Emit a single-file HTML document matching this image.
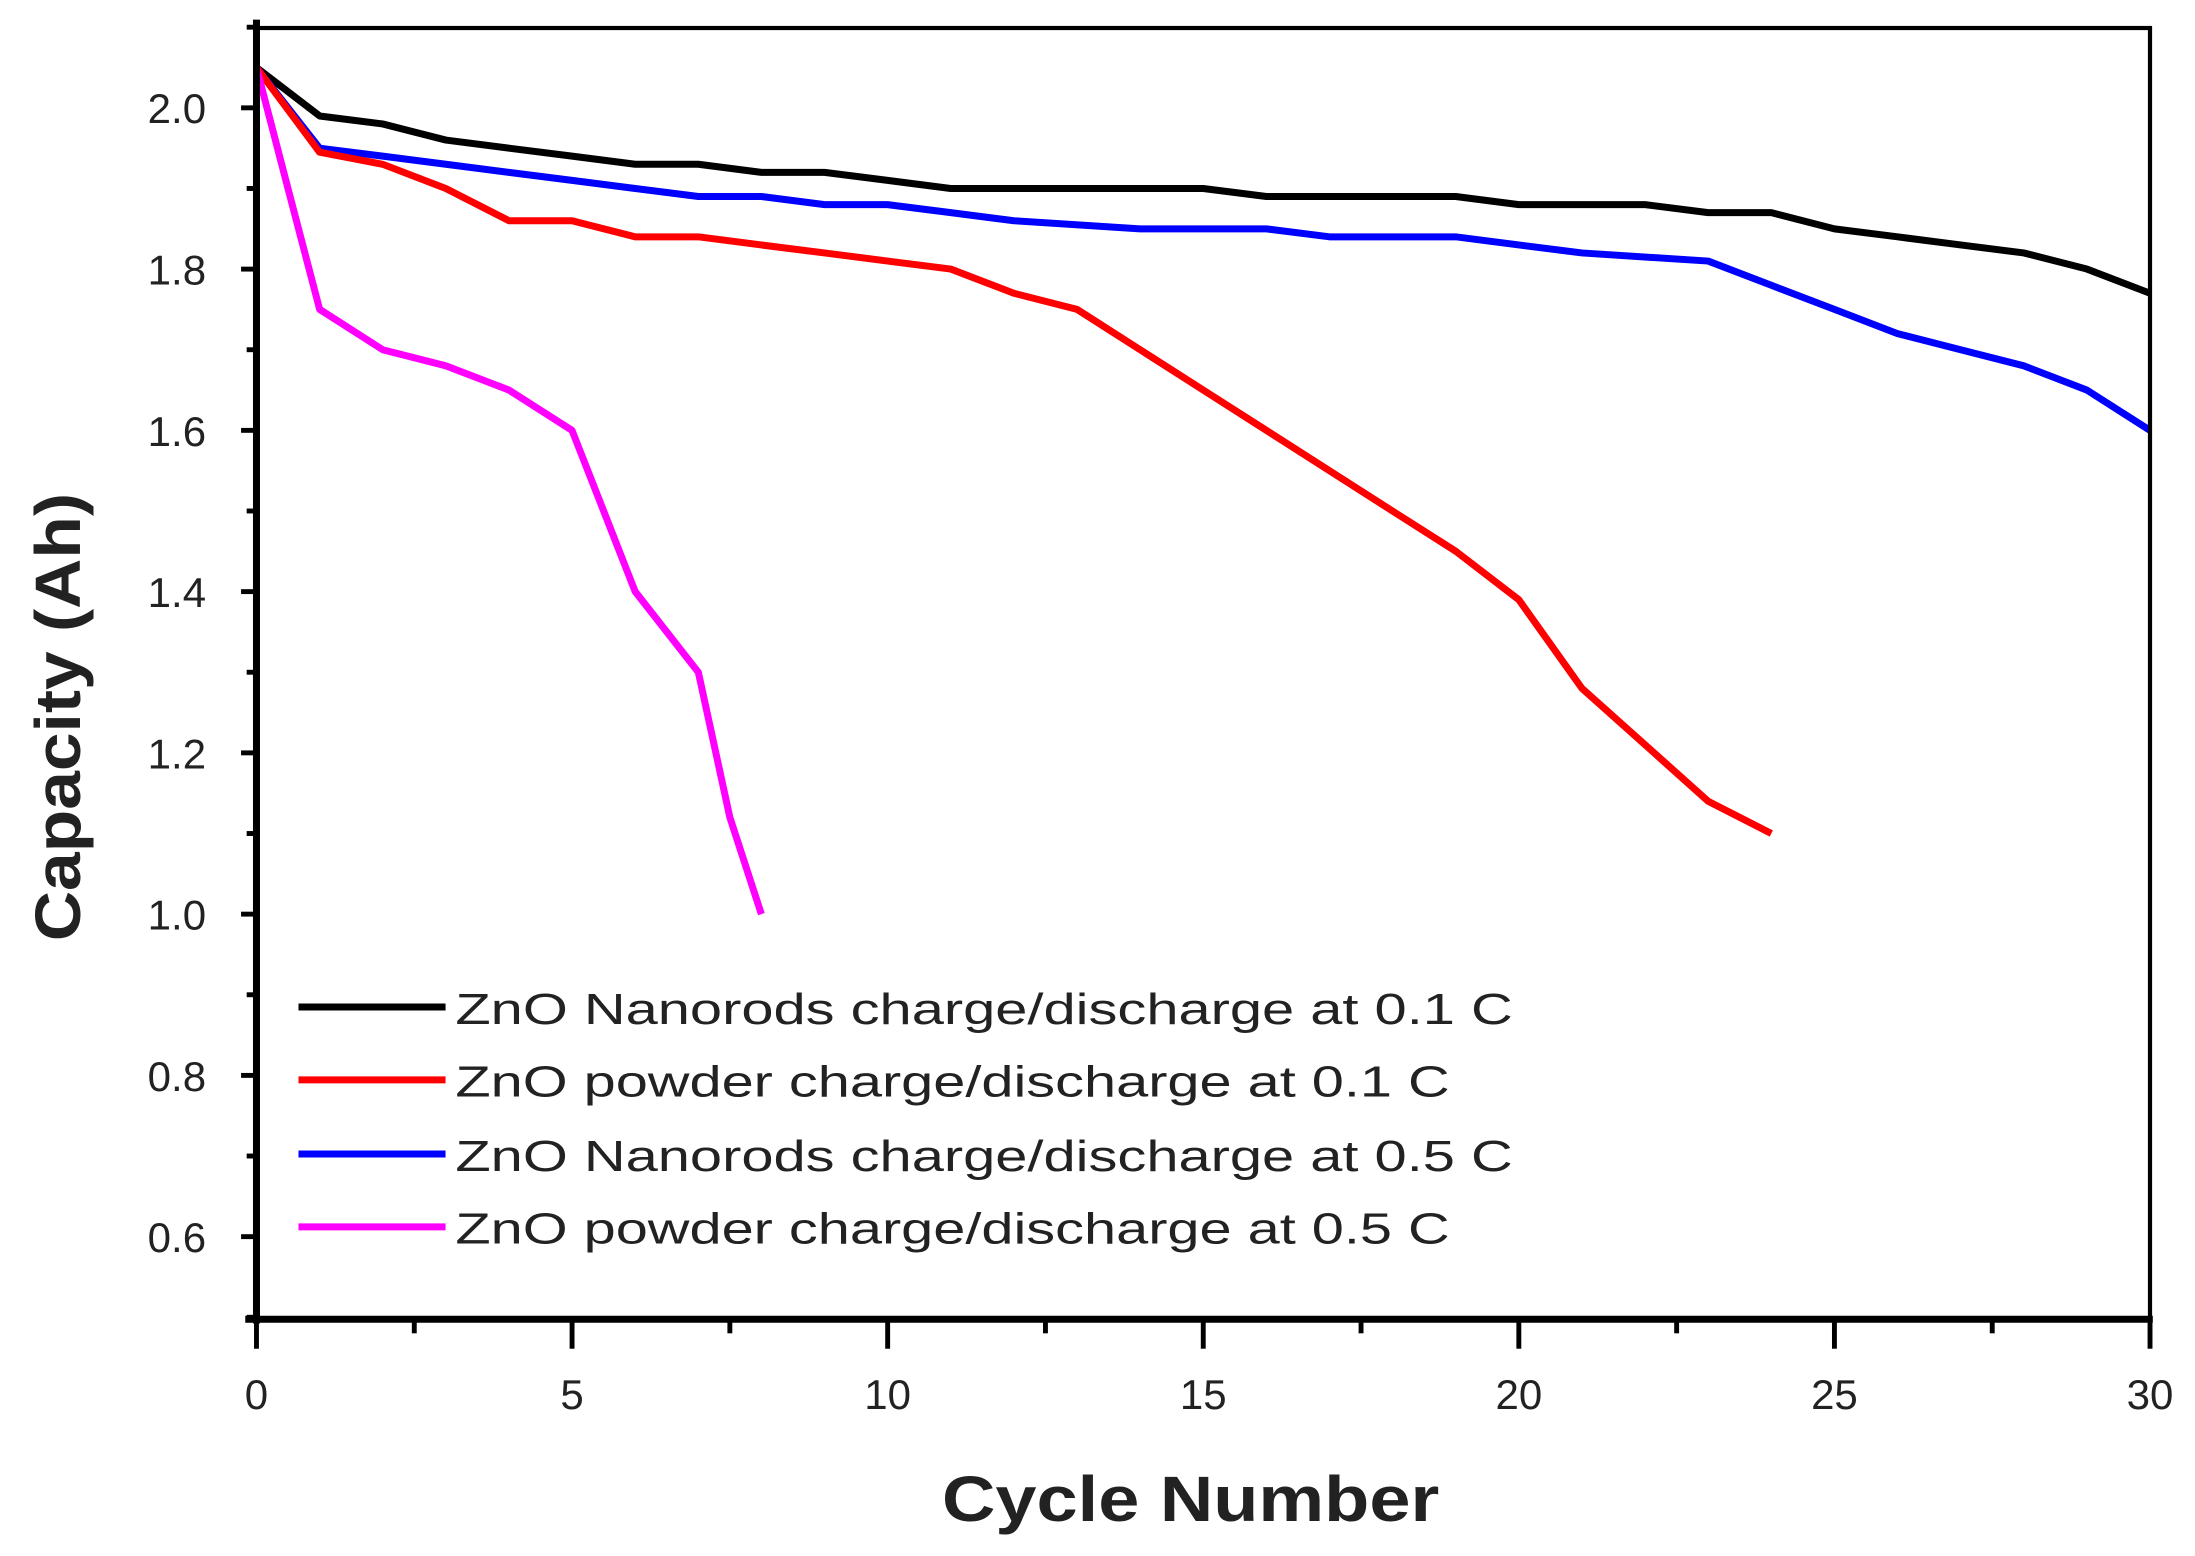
<!DOCTYPE html>
<html><head><meta charset="utf-8"><style>
html,body{margin:0;padding:0;background:#fff;}
svg{display:block;}
text{font-family:"Liberation Sans",sans-serif;}
</style></head><body>
<svg id="s" width="2195" height="1556" viewBox="0 0 1567 1111" xmlns="http://www.w3.org/2000/svg">
<rect width="1567" height="1111" fill="#fff"/>
<g id="plot"></g>
<rect x="183" y="20" width="1352" height="922" fill="none" stroke="#000" stroke-width="3"/>
<line x1="183" y1="14" x2="183" y2="945" stroke="#000" stroke-width="5"/>
<line x1="175" y1="942" x2="1537" y2="942" stroke="#000" stroke-width="5"/>
<g id="ticks" stroke="#000" stroke-width="3.5"></g>
<g id="labels" fill="#222" font-size="30"></g>
<text x="850" y="1086" font-size="46" font-weight="bold" text-anchor="middle" fill="#222" textLength="355" lengthAdjust="spacingAndGlyphs">Cycle Number</text>
<text transform="translate(57,512) rotate(-90)" font-size="46" font-weight="bold" text-anchor="middle" fill="#222" textLength="320" lengthAdjust="spacingAndGlyphs">Capacity (Ah)</text>
<g stroke-width="5">
<line x1="213" y1="719" x2="318" y2="719" stroke="#000"/>
<line x1="213" y1="771" x2="318" y2="771" stroke="#f00"/>
<line x1="213" y1="824" x2="318" y2="824" stroke="#00f"/>
<line x1="213" y1="876" x2="318" y2="876" stroke="#f0f"/>
</g>
<g font-size="31" fill="#222">
<text x="325" y="731" textLength="755" lengthAdjust="spacingAndGlyphs">ZnO Nanorods charge/discharge at 0.1 C</text>
<text x="325" y="783" textLength="710" lengthAdjust="spacingAndGlyphs">ZnO powder charge/discharge at 0.1 C</text>
<text x="325" y="836" textLength="755" lengthAdjust="spacingAndGlyphs">ZnO Nanorods charge/discharge at 0.5 C</text>
<text x="325" y="888" textLength="710" lengthAdjust="spacingAndGlyphs">ZnO powder charge/discharge at 0.5 C</text>
</g>
</svg>
<script>
var NS="http://www.w3.org/2000/svg";
function X(c){return 183+c*45.067;}
function Y(v){return 77+(2.0-v)*575.7;}
function el(p,t,a){var e=document.createElementNS(NS,t);for(var k in a)e.setAttribute(k,a[k]);p.appendChild(e);return e;}
var tk=document.getElementById("ticks"),lb=document.getElementById("labels");
for(var i=0;i<=16;i++){var n=5+i;var v=n/10;var y=Y(v);var major=(n%2===0);
 if(y<18)continue;
 el(tk,"line",{x1:major?172:176,y1:y,x2:183,y2:y});
 if(major&&n>5){var t=el(lb,"text",{x:147,y:y+11,"text-anchor":"end"});t.textContent=v.toFixed(1);}
}
for(var c=0;c<=30;c+=2.5){var x=X(c);var major=(c%5===0);
 el(tk,"line",{x1:x,y1:942,x2:x,y2:major?963:952});
 if(major){var t=el(lb,"text",{x:x,y:1006,"text-anchor":"middle"});t.textContent=String(c);}
}
var S=[
["#000",[[0,2.05],[1,1.99],[2,1.98],[3,1.96],[4,1.95],[5,1.94],[6,1.93],[7,1.93],[8,1.92],[9,1.92],[10,1.91],[11,1.90],[12,1.90],[15,1.90],[16,1.89],[19,1.89],[20,1.88],[22,1.88],[23,1.87],[24,1.87],[25,1.85],[26,1.84],[27,1.83],[28,1.82],[29,1.80],[30,1.77]]],
["#00f",[[0,2.05],[1,1.95],[2,1.94],[3,1.93],[4,1.92],[5,1.91],[6,1.90],[7,1.89],[8,1.89],[9,1.88],[10,1.88],[11,1.87],[12,1.86],[14,1.85],[16,1.85],[17,1.84],[19,1.84],[20,1.83],[21,1.82],[23,1.81],[24,1.78],[25,1.75],[26,1.72],[27,1.70],[28,1.68],[29,1.65],[30,1.60]]],
["#f00",[[0,2.05],[1,1.945],[2,1.93],[3,1.90],[4,1.86],[5,1.86],[6,1.84],[7,1.84],[8,1.83],[9,1.82],[10,1.81],[11,1.80],[12,1.77],[13,1.75],[14,1.70],[15,1.65],[16,1.60],[17,1.55],[18,1.50],[19,1.45],[20,1.39],[21,1.28],[22,1.21],[23,1.14],[24,1.10]]],
["#f0f",[[0,2.05],[0.5,1.90],[1,1.75],[2,1.70],[3,1.68],[4,1.65],[5,1.60],[5.5,1.50],[6,1.40],[7,1.30],[7.5,1.12],[8,1.00]]]
];
var pg=document.getElementById("plot");
S.forEach(function(s){var d=s[1].map(function(p,i){return (i?"L":"M")+X(p[0]).toFixed(1)+" "+Y(p[1]).toFixed(1);}).join(" ");
 el(pg,"path",{d:d,fill:"none",stroke:s[0],"stroke-width":5,"stroke-linejoin":"round"});});
</script>
</body></html>
